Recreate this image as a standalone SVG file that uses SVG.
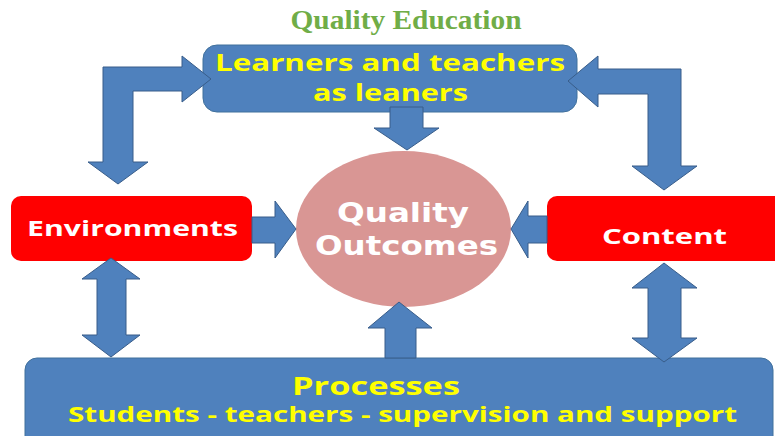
<svg xmlns="http://www.w3.org/2000/svg" width="775" height="436" viewBox="0 0 775 436">
<style>
.blue{fill:#4f81bd;stroke:#41719c;stroke-width:1}
.red{fill:#ff0000}
.arrow{fill:#4f81bd;stroke:#385d8a;stroke-width:1;stroke-linejoin:miter}
.yt{fill:#ffff00;font-family:"Open Sans","DejaVu Sans",sans-serif;font-weight:bold}
.wt{fill:#ffffff;font-family:"Open Sans","DejaVu Sans",sans-serif;font-weight:bold}
.ot{fill:#ffffff;font-family:"DejaVu Sans",Verdana,sans-serif;font-weight:bold}
.title{fill:#70ad47;font-family:"Liberation Serif","Times New Roman",serif;font-weight:bold;font-size:28px}
</style>
<rect width="775" height="436" fill="#ffffff"/>
<text class="title" x="406" y="29" text-anchor="middle" textLength="231" lengthAdjust="spacingAndGlyphs">Quality Education</text>

<g id="learners">
<rect class="blue" x="203" y="45" width="374" height="67" rx="14"/>
<text class="yt" x="390" y="71" font-size="23" text-anchor="middle" textLength="350" lengthAdjust="spacingAndGlyphs">Learners and  teachers</text>
<text class="yt" x="390.5" y="101" font-size="23" text-anchor="middle" textLength="155" lengthAdjust="spacingAndGlyphs">as leaners</text>
</g>

<g id="environments">
<rect class="red" x="11" y="196" width="241" height="65" rx="10"/>
<text class="wt" x="132.5" y="236" font-size="21" text-anchor="middle" textLength="211" lengthAdjust="spacingAndGlyphs">Environments</text>
</g>

<g id="content">
<rect class="red" x="547" y="196" width="240" height="65" rx="10"/>
<text class="wt" x="664.5" y="244" font-size="22" text-anchor="middle" textLength="125" lengthAdjust="spacingAndGlyphs">Content</text>
</g>

<g id="outcomes">
<ellipse cx="403.5" cy="229" rx="107.5" ry="78" fill="#d99694"/>
<text class="ot" x="403" y="222" font-size="26" text-anchor="middle" textLength="132" lengthAdjust="spacingAndGlyphs">Quality</text>
<text class="ot" x="406.5" y="255" font-size="26" text-anchor="middle" textLength="183" lengthAdjust="spacingAndGlyphs">Outcomes</text>
</g>

<g id="processes">
<rect class="blue" x="25" y="358" width="748" height="100" rx="12"/>
<text class="yt" x="376" y="395" font-size="25" text-anchor="middle" textLength="168" lengthAdjust="spacingAndGlyphs">Processes</text>
<text class="yt" x="402.5" y="422" font-size="21" text-anchor="middle" textLength="669" lengthAdjust="spacingAndGlyphs">Students - teachers - supervision and support</text>
</g>

<g id="connectors">
<polygon class="arrow" points="211,79 182,56 182,67 103,67 103,162 88,162 118,184 148,162 133,162 133,91 182,91 182,102"/>
<polygon class="arrow" points="568,81 598,56 598,69 681,69 681,166 697,166 664,190 632,166 648,166 648,94 598,94 598,107"/>
<polygon class="arrow" points="390,107 423,107 423,128 439,128 407,150 374,128 390,128"/>
<polygon class="arrow" points="252,217 275,217 275,201 296,229 275,258 275,243 252,243"/>
<polygon class="arrow" points="547,216 528,216 528,201 511,229 528,258 528,243 547,243"/>
<polygon class="arrow" points="111,258 140,279 126,279 126,335 140,335 111,357 82,335 97,335 97,279 82,279"/>
<polygon class="arrow" points="664,263 697,288 681,288 681,338 697,338 664,362 632,338 648,338 648,288 632,288"/>
<polygon class="arrow" points="385,358 385,328 368,328 399,302 432,328 416,328 416,358"/>
</g>
</svg>
